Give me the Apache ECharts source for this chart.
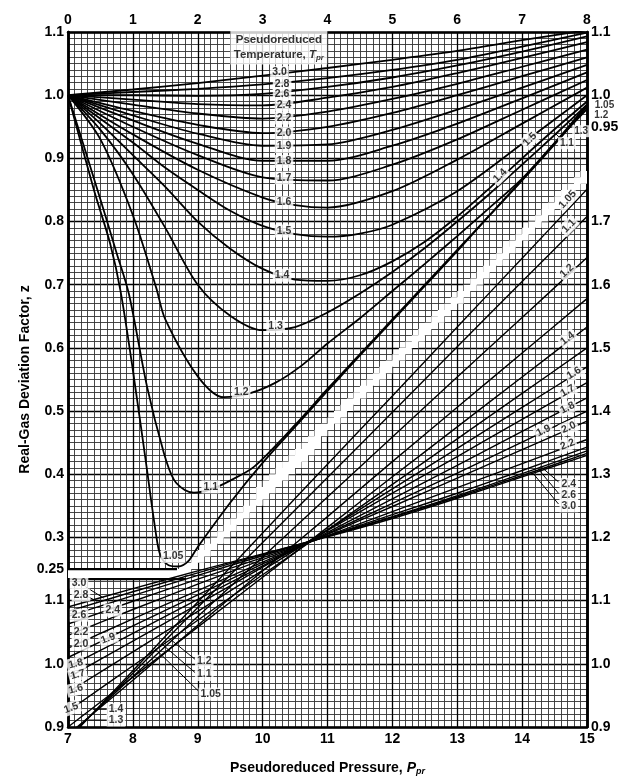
<!DOCTYPE html>
<html>
<head>
<meta charset="utf-8">
<script src="https://cdn.jsdelivr.net/npm/echarts@6.0.0/dist/echarts.min.js"></script>
<style>
  html, body { margin: 0; padding: 0; background: #fff; }
  #chart { width: 627px; height: 781px; }
</style>
</head>
<body>
<div id="chart"></div>
<script>
// ---- upper chart: Ppr 0-8 (top axis), z on left scale 0.25-1.1 ----
const lowT30 = [[0,1.000],[1,1.009],[2,1.019],[3,1.031],[4,1.043],[5,1.056],[6,1.070],[7,1.087],[8,1.103]]
const lowT28 = [[0,1.000],[1,1.005],[2,1.010],[3,1.017],[4,1.027],[5,1.040],[6,1.056],[7,1.077],[8,1.099]]
const lowT26 = [[0,1.000],[1,1.000],[2,0.999],[3,1.002],[4,1.013],[5,1.028],[6,1.047],[7,1.069],[8,1.093]]
const lowT24 = [[0,1.000],[1,0.993],[2,0.986],[3,0.984],[4,0.996],[5,1.013],[6,1.035],[7,1.059],[8,1.084]]
const lowT22 = [[0,1.000],[1,0.985],[2,0.971],[3,0.963],[4,0.974],[5,0.994],[6,1.018],[7,1.045],[8,1.072]]
const lowT20 = [[0,1.000],[1,0.975],[2,0.953],[3,0.940],[4,0.950],[5,0.972],[6,1.000],[7,1.030],[8,1.060]]
const lowT19 = [[0,1.000],[1,0.968],[2,0.939],[3,0.920],[4,0.922],[5,0.945],[6,0.977],[7,1.012],[8,1.048]]
const lowT18 = [[0,1.000],[1,0.960],[2,0.923],[3,0.896],[4,0.896],[5,0.920],[6,0.955],[7,0.995],[8,1.036]]
const lowT17 = [[0,1.000],[1,0.950],[2,0.905],[3,0.870],[4,0.865],[5,0.890],[6,0.930],[7,0.977],[8,1.024]]
const lowT16 = [[0,1.000],[1,0.938],[2,0.882],[3,0.838],[3.5,0.826],[4,0.822],[5,0.848],[6,0.898],[7,0.955],[8,1.012]]
const lowT15 = [[0,1.000],[1,0.925],[1.5,0.885],[2,0.850],[2.5,0.817],[3,0.793],[3.5,0.780],[4,0.776],[4.5,0.781],[5,0.795],[6,0.848],[7,0.923],[8,1.000]]
const lowT14 = [[0,1.000],[0.5,0.955],[1,0.905],[1.5,0.855],[2,0.800],[2.5,0.757],[3,0.725],[3.5,0.708],[4,0.706],[4.5,0.715],[5,0.737],[5.5,0.768],[6,0.808],[6.5,0.853],[7,0.900],[7.5,0.946],[8,0.990]]
const lowT13 = [[0,1.000],[0.5,0.945],[1,0.875],[1.5,0.790],[2,0.700],[2.5,0.651],[3,0.628],[3.5,0.633],[4,0.656],[4.5,0.686],[5,0.720],[5.5,0.758],[6,0.800],[6.5,0.844],[7,0.890],[7.5,0.937],[8,0.985]]
const lowT12 = [[0,1.000],[0.5,0.930],[1,0.810],[1.36,0.695],[1.5,0.645],[2,0.555],[2.4,0.522],[2.8,0.528],[3.2,0.545],[3.6,0.572],[4,0.607],[4.5,0.647],[5,0.690],[5.5,0.733],[6,0.777],[6.5,0.822],[7,0.868],[7.5,0.924],[8,0.978]]
const lowT11 = [[0,1.000],[0.5,0.835],[0.75,0.750],[0.94,0.685],[1.22,0.538],[1.48,0.433],[1.63,0.392],[1.8,0.375],[1.94,0.371],[2.2,0.376],[2.5,0.390],[2.87,0.412],[3.5,0.478],[4,0.535],[4.5,0.590],[5,0.645],[5.5,0.700],[6,0.755],[6.5,0.810],[7,0.865],[7.5,0.922],[8,0.982]]
const lowT105 = [[0,1.000],[0.4,0.850],[0.65,0.765],[0.81,0.690],[1.0,0.565],[1.2,0.420],[1.38,0.290],[1.45,0.266],[1.55,0.256],[1.7,0.254],[1.85,0.262],[2.0,0.285],[2.5,0.355],[3,0.418],[3.5,0.475],[4,0.532],[4.5,0.588],[5,0.643],[5.5,0.698],[6,0.753],[6.5,0.810],[7,0.866],[7.5,0.924],[8,0.985]]

// ---- lower/right chart: Ppr 7-15 (bottom axis), z on scale 0.9-1.7 ----
const highPpr = [7, 8, 9, 10, 11, 12, 13, 14, 15]
const highT105 = [0.880, 0.989, 1.098, 1.207, 1.316, 1.424, 1.533, 1.642, 1.751]
const highT11 = [0.882, 0.985, 1.089, 1.192, 1.295, 1.398, 1.502, 1.605, 1.708]
const highT12 = [0.885, 0.980, 1.075, 1.169, 1.264, 1.359, 1.454, 1.548, 1.643]
const highT13 = [0.888, 0.974, 1.061, 1.147, 1.233, 1.320, 1.406, 1.492, 1.578]
const highT14 = [0.900, 0.979, 1.058, 1.137, 1.216, 1.296, 1.375, 1.454, 1.533]
const highT15 = [0.925, 0.997, 1.069, 1.141, 1.212, 1.284, 1.356, 1.428, 1.500]
const highT16 = [0.955, 1.019, 1.083, 1.148, 1.212, 1.277, 1.341, 1.406, 1.470]
const highT17 = [0.978, 1.036, 1.094, 1.153, 1.211, 1.270, 1.328, 1.387, 1.445]
const highT18 = [0.995, 1.048, 1.102, 1.155, 1.208, 1.261, 1.314, 1.368, 1.421]
const highT19 = [1.010, 1.060, 1.109, 1.158, 1.206, 1.254, 1.302, 1.351, 1.400]
const highT20 = [1.025, 1.071, 1.116, 1.161, 1.205, 1.249, 1.294, 1.339, 1.384]
const highT22 = [1.045, 1.086, 1.126, 1.165, 1.203, 1.241, 1.279, 1.317, 1.355]
const highT24 = [1.063, 1.099, 1.134, 1.168, 1.202, 1.236, 1.270, 1.306, 1.343]
const highT26 = [1.075, 1.108, 1.140, 1.171, 1.202, 1.233, 1.266, 1.301, 1.337]
const highT28 = [1.083, 1.114, 1.144, 1.173, 1.202, 1.232, 1.264, 1.298, 1.333]
const highT30 = [1.090, 1.119, 1.147, 1.174, 1.201, 1.230, 1.262, 1.296, 1.330]

// tick labels
const leftLowTicks = [1.1, 1.0, 0.9, 0.8, 0.7, 0.6, 0.5, 0.4, 0.3, 0.25]
const leftHighTicks = [1.1, 1.0, 0.9]
const rightLowTicks = [1.1, 1.0, 0.95]
const rightHighTicks = [1.7, 1.6, 1.5, 1.4, 1.3, 1.2, 1.1, 1.0, 0.9]

// Tpr labels: [text, Ppr, z, rotation]
const lowLabels = [
  ['3.0', 3.26, 1.036, 0], ['2.8', 3.3, 1.018, 0], ['2.6', 3.3, 1.002, 0], ['2.4', 3.33, 0.985, 0],
  ['2.2', 3.33, 0.964, 0], ['2.0', 3.33, 0.940, 0], ['1.9', 3.33, 0.919, 0], ['1.8', 3.33, 0.895, 0],
  ['1.7', 3.33, 0.869, 0], ['1.6', 3.33, 0.830, 0], ['1.5', 3.33, 0.785, 0], ['1.4', 3.3, 0.715, 0],
  ['1.3', 3.2, 0.634, 0], ['1.2', 2.67, 0.530, 0], ['1.1', 2.2, 0.380, 0], ['1.05', 1.62, 0.270, 0],
  ['1.5', 7.12, 0.930, 45], ['1.4', 6.66, 0.873, 45]
]
const lowSideLabels = [['1.05', 8.27, 0.984, 0], ['1.2', 8.22, 0.968, 0], ['1.3', 7.91, 0.943, 0], ['1.1', 7.69, 0.924, 0]]
const highLabels = [
  ['1.05', 14.70, 1.735, 47], ['1.1', 14.72, 1.693, 45], ['1.2', 14.69, 1.622, 43], ['1.4', 14.70, 1.515, 38],
  ['1.6', 14.8, 1.460, 32], ['1.7', 14.70, 1.432, 30], ['1.8', 14.70, 1.405, 27], ['1.9', 14.33, 1.369, 26],
  ['2.0', 14.72, 1.374, 24], ['2.2', 14.70, 1.347, 21], ['2.4', 14.72, 1.284, 0], ['2.6', 14.72, 1.267, 0],
  ['3.0', 14.72, 1.250, 0],
  ['3.0', 7.17, 1.128, 0], ['2.8', 7.2, 1.109, 0], ['2.6', 7.17, 1.077, 0], ['2.4', 7.69, 1.085, 0],
  ['2.2', 7.2, 1.050, 0], ['2.0', 7.2, 1.031, 0], ['1.9', 7.62, 1.040, 20], ['1.8', 7.12, 1.000, 15],
  ['1.7', 7.15, 0.983, 15], ['1.6', 7.12, 0.960, 15], ['1.5', 7.05, 0.930, 20], ['1.4', 7.74, 0.928, 0],
  ['1.3', 7.74, 0.911, 0], ['1.2', 9.1, 1.004, 0], ['1.1', 9.1, 0.983, 0], ['1.05', 9.2, 0.952, 0]
]
// leader lines from label to curve
const lowLeaders = [
  [[7.99, 0.996], [8.16, 0.986]], [[7.99, 0.978], [8.14, 0.970]],
  [[7.70, 0.958], [7.83, 0.946]], [[7.50, 0.941], [7.62, 0.928]]
]
const highLeaders = [
  [[14.28, 1.313], [14.56, 1.288]], [[14.25, 1.308], [14.56, 1.270]], [[14.18, 1.300], [14.56, 1.253]],
  [[7.27, 1.122], [7.55, 1.104]], [[7.31, 1.106], [7.45, 1.099]],
  [[7.60, 0.928], [7.38, 0.928]], [[7.60, 0.911], [7.30, 0.911]],
  [[8.96, 1.007], [8.60, 1.037]], [[8.96, 0.986], [8.45, 1.031]], [[9.02, 0.956], [8.33, 1.025]]
]
// white gap between the two charts (bottom-axis Ppr, right-scale z)
const bandCentre = [[8.7, 1.137], [15.3, 1.809]]
const bandHalf = 0.016
const stripBox = [[7, 1.134], [8.8, 1.15]]
const stripEdges = [[[7, 1.15], [8.68, 1.15]], [[7, 1.134], [8.82, 1.134]]]

const FONT = '"Liberation Sans", Arial, sans-serif'
const chart = echarts.init(document.getElementById('chart'))

const fmtTick = (list) => (v) => {
  if (!list.some((t) => Math.abs(t - v) < 1e-6)) return ''
  let s = v.toFixed(2)
  if (s.endsWith('0')) s = s.slice(0, -1)
  return s
}

const tickLabel = { color: '#000', fontSize: 14, fontWeight: 'bold', fontFamily: FONT }
const border = { show: true, onZero: false, lineStyle: { color: '#000', width: 2.5 } }
const majorGrid = { show: true, lineStyle: { color: '#000', width: 1.3 } }
const minorGrid = { show: true, lineStyle: { color: '#333', width: 0.9 } }

const lowCurves = [lowT30, lowT28, lowT26, lowT24, lowT22, lowT20, lowT19, lowT18, lowT17, lowT16, lowT15, lowT14, lowT13, lowT12, lowT11, lowT105]
const highCurves = [highT105, highT11, highT12, highT13, highT14, highT15, highT16, highT17, highT18, highT19, highT20, highT22, highT24, highT26, highT28, highT30]

const series = []

// white band and strip
series.push({
  type: 'custom',
  xAxisIndex: 0,
  yAxisIndex: 1,
  data: [0],
  z: 2,
  silent: true,
  clip: true,
  renderItem: function (params, api) {
    const p0 = bandCentre[0][0], p1 = bandCentre[1][0]
    const slope = (bandCentre[1][1] - bandCentre[0][1]) / (p1 - p0)
    const zc = (p) => bandCentre[0][1] + slope * (p - p0)
    const up = [], lo = []
    for (let i = 0; p0 + i * 0.1 < p1 - 1e-9; i++) {
      const p = p0 + i * 0.1
      const zu = Math.round((zc(p) + bandHalf) / 0.01) * 0.01
      const zl = Math.round((zc(p + 0.1) - bandHalf) / 0.01) * 0.01
      up.push(api.coord([p, zu]), api.coord([p + 0.1, zu]))
      lo.push(api.coord([p, zl]), api.coord([p + 0.1, zl]))
    }
    const pts = up.concat(lo.reverse())
    const a = api.coord(stripBox[0]), b = api.coord(stripBox[1])
    return {
      type: 'group',
      children: [
        { type: 'polygon', shape: { points: pts }, style: { fill: '#fff' } },
        { type: 'rect', shape: { x: a[0], y: b[1], width: b[0] - a[0], height: a[1] - b[1] }, style: { fill: '#fff' } }
      ]
    }
  }
})

stripEdges.forEach(function (d) {
  series.push({
    type: 'line', xAxisIndex: 0, yAxisIndex: 1, data: d, symbol: 'none', silent: true, z: 3,
    lineStyle: { color: '#000', width: 2.2 }
  })
})

lowCurves.forEach(function (d) {
  series.push({
    type: 'line', xAxisIndex: 1, yAxisIndex: 0, data: d, smooth: 0.3, symbol: 'none', silent: true, z: 4,
    lineStyle: { color: '#000', width: 1.8 }
  })
})

highCurves.forEach(function (d) {
  series.push({
    type: 'line', xAxisIndex: 0, yAxisIndex: 1, data: highPpr.map((p, i) => [p, d[i]]), smooth: 0.3,
    symbol: 'none', silent: true, z: 4, lineStyle: { color: '#000', width: 1.4 }
  })
})

lowLeaders.forEach(function (d) {
  series.push({
    type: 'line', xAxisIndex: 1, yAxisIndex: 0, data: d, symbol: 'none', silent: true, z: 5, clip: false,
    lineStyle: { color: '#000', width: 1 }
  })
})
highLeaders.forEach(function (d) {
  series.push({
    type: 'line', xAxisIndex: 0, yAxisIndex: 1, data: d, symbol: 'none', silent: true, z: 5,
    lineStyle: { color: '#000', width: 1 }
  })
})

const labelSeries = (items, xi, yi, size) => ({
  type: 'scatter', xAxisIndex: xi, yAxisIndex: yi, symbolSize: 0, clip: false, silent: true, z: 6,
  data: items.map((it) => ({
    value: [it[1], it[2]],
    label: {
      show: true, position: 'inside', formatter: it[0], rotate: it[3],
      backgroundColor: '#fff', padding: [1, 2], color: '#000',
      fontSize: size, fontWeight: 'bold', fontFamily: FONT
    }
  }))
})
series.push(labelSeries(lowLabels, 1, 0, 10.5))
series.push(labelSeries(lowSideLabels, 1, 0, 10))
series.push(labelSeries(highLabels, 0, 1, 10.5))

// legend box "Pseudoreduced Temperature, Tpr"
series.push({
  type: 'scatter', xAxisIndex: 1, yAxisIndex: 0, symbolSize: 0, silent: true, z: 6,
  data: [[3.25, 1.0755]],
  label: {
    show: true, position: 'inside',
    formatter: 'Pseudoreduced\nTemperature, {i|T}{s|pr}',
    backgroundColor: '#fff', width: 93, height: 30, padding: [2, 2],
    align: 'center', lineHeight: 15, color: '#000',
    fontSize: 11.5, fontWeight: 'bold', fontFamily: FONT,
    rich: {
      i: { fontSize: 11.5, fontStyle: 'italic', fontWeight: 'bold', fontFamily: FONT, lineHeight: 15 },
      s: { fontSize: 8, fontStyle: 'italic', fontWeight: 'bold', fontFamily: FONT, padding: [5, 0, 0, 0], lineHeight: 15 }
    }
  }
})

chart.setOption({
  animation: false,
  backgroundColor: '#fff',
  grid: { left: 68, right: 40, top: 32, bottom: 51 },
  xAxis: [
    {
      type: 'value', position: 'bottom', min: 7, max: 15, interval: 1,
      axisLine: border, axisTick: { show: false },
      axisLabel: Object.assign({ margin: 5 }, tickLabel),
      splitLine: majorGrid,
      minorTick: { show: false, splitNumber: 10 },
      minorSplitLine: minorGrid,
      name: 'Pseudoreduced Pressure, {i|P}{s|pr}', nameLocation: 'middle', nameGap: 33,
      nameTextStyle: {
        color: '#000', fontSize: 14, fontWeight: 'bold', fontFamily: FONT,
        rich: {
          i: { fontSize: 14, fontStyle: 'italic', fontWeight: 'bold', fontFamily: FONT },
          s: { fontSize: 9, fontStyle: 'italic', fontWeight: 'bold', fontFamily: FONT, padding: [7, 0, 0, 0] }
        }
      }
    },
    {
      type: 'value', position: 'top', min: 0, max: 8, interval: 1,
      axisLine: border, axisTick: { show: false },
      axisLabel: Object.assign({ margin: 5 }, tickLabel),
      splitLine: { show: false }
    }
  ],
  yAxis: [
    {
      type: 'value', position: 'left', min: 0, max: 1.1, interval: 0.05,
      axisLine: border, axisTick: { show: false },
      axisLabel: Object.assign({ margin: 4, formatter: fmtTick(leftLowTicks) }, tickLabel),
      splitLine: { show: false }
    },
    {
      type: 'value', position: 'left', min: 0.9, max: 2.0, interval: 0.1,
      axisLine: border, axisTick: { show: false },
      axisLabel: Object.assign({ margin: 4, formatter: fmtTick(leftHighTicks) }, tickLabel),
      splitLine: majorGrid,
      minorTick: { show: false, splitNumber: 10 },
      minorSplitLine: minorGrid,
      name: 'Real-Gas Deviation Factor, z', nameLocation: 'middle', nameGap: 36, nameRotate: 90,
      nameTextStyle: { color: '#000', fontSize: 14, fontWeight: 'bold', fontFamily: FONT }
    },
    {
      type: 'value', position: 'right', min: 0, max: 1.1, interval: 0.05,
      axisLine: border, axisTick: { show: false },
      axisLabel: Object.assign({ margin: 4, formatter: fmtTick(rightLowTicks) }, tickLabel),
      splitLine: { show: false }
    },
    {
      type: 'value', position: 'right', min: 0.9, max: 2.0, interval: 0.05,
      axisLine: border, axisTick: { show: false },
      axisLabel: Object.assign({ margin: 4, formatter: fmtTick(rightHighTicks) }, tickLabel),
      splitLine: { show: false }
    }
  ],
  series: series
})
</script>
</body>
</html>
